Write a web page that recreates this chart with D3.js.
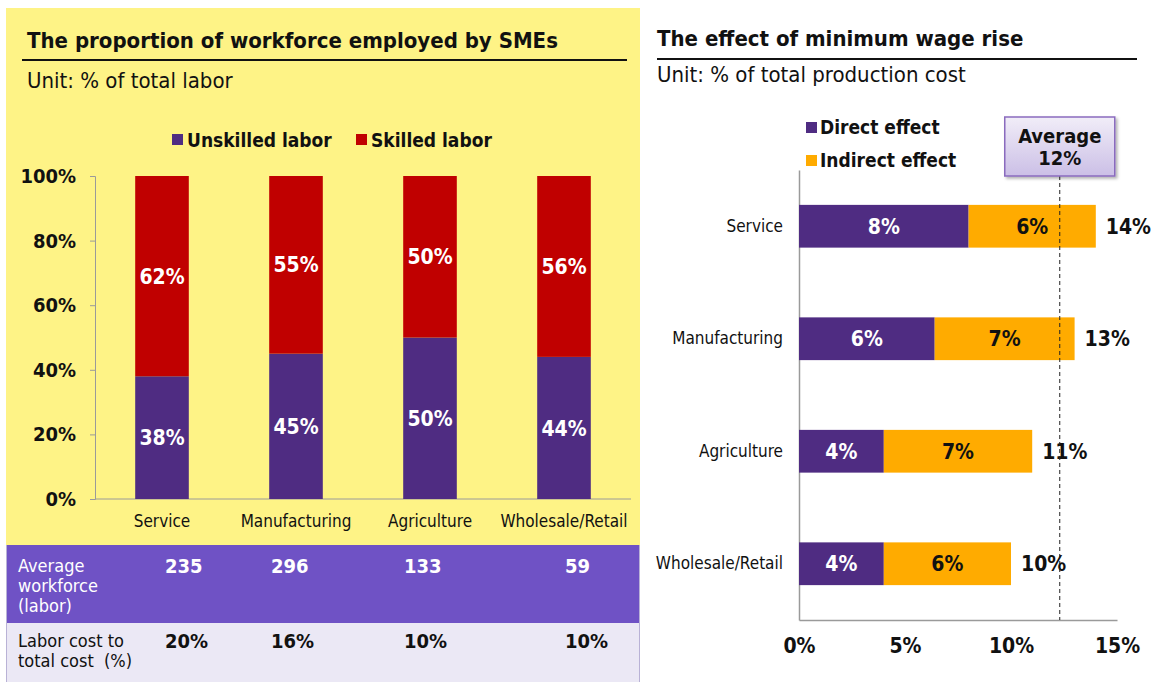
<!DOCTYPE html>
<html>
<head>
<meta charset="utf-8">
<script src="https://cdn.jsdelivr.net/npm/d3@7"></script>
<style>
  html, body { margin: 0; padding: 0; background: #ffffff; }
  svg { display: block; font-family: "DejaVu Sans Condensed", "DejaVu Sans", sans-serif; }
</style>
</head>
<body>
<svg id="chart" width="1153" height="682"></svg>
<script>
// ---- Left chart: workforce composition of SMEs ----
const sectors = ["Service", "Manufacturing", "Agriculture", "Wholesale/Retail"];
const unskilledShare = [38, 45, 50, 44];
const skilledShare = [62, 55, 50, 56];
const shareTicks = [0, 20, 40, 60, 80, 100];

// table under the left chart
const avgWorkforce = ["235", "296", "133", "59"];
const laborCostShare = ["20%", "16%", "10%", "10%"];

// ---- Right chart: effect of minimum wage rise ----
const effectSectors = ["Service", "Manufacturing", "Agriculture", "Wholesale/Retail"];
const directEffect = [8, 6.4, 4, 4];
const indirectEffect = [6, 6.6, 7, 6];
const averageEffect = 12.3;
const effectTicks = [0, 5, 10, 15];

const FONT = "DejaVu Sans Condensed, DejaVu Sans, sans-serif";
const C = {
  yellow: "#FEF386",
  purple: "#4F2C82",
  red: "#C00000",
  orange: "#FFAB00",
  tablePurple: "#6F52C5",
  tableLight: "#EBE8F5",
  axis: "#9a9a9a"
};
const pct = v => Math.round(v) + "%";

const svg = d3.select("#chart");

// ================= LEFT PANEL =================
const L = svg.append("g");
L.append("rect").attr("x", 6).attr("y", 8).attr("width", 634).attr("height", 537).attr("fill", C.yellow);

L.append("text").attr("x", 27).attr("y", 48)
  .attr("font-size", 22).attr("font-weight", "bold").attr("fill", "#111")
  .text("The proportion of workforce employed by SMEs");
L.append("line").attr("x1", 22).attr("x2", 627).attr("y1", 60).attr("y2", 60)
  .attr("stroke", "#111").attr("stroke-width", 2);
L.append("text").attr("x", 27).attr("y", 88)
  .attr("font-size", 22).attr("fill", "#111").text("Unit: % of total labor");

// legend
const legL = [
  { label: "Unskilled labor", color: C.purple, x: 172 },
  { label: "Skilled labor", color: C.red, x: 356 }
];
legL.forEach(d => {
  L.append("rect").attr("x", d.x).attr("y", 134).attr("width", 11).attr("height", 11).attr("fill", d.color);
  L.append("text").attr("x", d.x + 15).attr("y", 147)
    .attr("font-size", 19).attr("font-weight", "bold").attr("fill", "#111").text(d.label);
});

const yL = d3.scaleLinear().domain([0, 100]).range([499, 176]);
const xL = d3.scaleBand().domain(sectors).range([95, 631]).paddingInner(0.6).paddingOuter(0.3);

// y axis
const yAxisL = L.append("g").attr("transform", "translate(95,0)")
  .call(d3.axisLeft(yL).tickValues(shareTicks).tickSize(5).tickPadding(14).tickFormat(d => d + "%"));
yAxisL.selectAll("path, line").attr("stroke", C.axis);
yAxisL.selectAll("text").attr("font-size", 20).attr("font-weight", "bold").attr("fill", "#111")
  .attr("font-family", FONT);

// x axis
const xAxisL = L.append("g").attr("transform", "translate(0,499)")
  .call(d3.axisBottom(xL).tickSize(0).tickPadding(16));
xAxisL.select("path").attr("stroke", C.axis).attr("d", "M95,0H631");
xAxisL.selectAll("text").attr("font-size", 17).attr("fill", "#111")
  .attr("font-family", FONT);

// stacked bars
const stackL = sectors.map((s, i) => ({ s, u: unskilledShare[i], k: skilledShare[i] }));
const barsL = L.append("g").selectAll("g").data(stackL).join("g");
barsL.append("rect")
  .attr("x", d => xL(d.s)).attr("width", xL.bandwidth())
  .attr("y", d => yL(d.u)).attr("height", d => yL(0) - yL(d.u))
  .attr("fill", C.purple);
barsL.append("rect")
  .attr("x", d => xL(d.s)).attr("width", xL.bandwidth())
  .attr("y", d => yL(d.u + d.k)).attr("height", d => yL(d.u) - yL(d.u + d.k))
  .attr("fill", C.red);
barsL.append("text")
  .attr("x", d => xL(d.s) + xL.bandwidth() / 2).attr("y", d => yL(d.u / 2)).attr("dy", "0.36em")
  .attr("text-anchor", "middle").attr("font-size", 21).attr("font-weight", "bold").attr("fill", "#fff")
  .text(d => pct(d.u));
barsL.append("text")
  .attr("x", d => xL(d.s) + xL.bandwidth() / 2).attr("y", d => yL(d.u + d.k / 2)).attr("dy", "0.36em")
  .attr("text-anchor", "middle").attr("font-size", 21).attr("font-weight", "bold").attr("fill", "#fff")
  .text(d => pct(d.k));

// table
const colX = [165, 271, 404, 565];
L.append("rect").attr("x", 6).attr("y", 545).attr("width", 634).attr("height", 78).attr("fill", C.tablePurple);
L.append("rect").attr("x", 6).attr("y", 623).attr("width", 634).attr("height", 59).attr("fill", C.tableLight);
L.append("line").attr("x1", 6.5).attr("x2", 6.5).attr("y1", 545).attr("y2", 682).attr("stroke", "#b9b2d6");
L.append("line").attr("x1", 639.5).attr("x2", 639.5).attr("y1", 545).attr("y2", 682).attr("stroke", "#b9b2d6");

["Average", "workforce", "(labor)"].forEach((t, i) => {
  L.append("text").attr("x", 18).attr("y", 572 + i * 20).attr("font-size", 18).attr("fill", "#fff").text(t);
});
["Labor cost to", "total cost  (%)"].forEach((t, i) => {
  L.append("text").attr("x", 18).attr("y", 647 + i * 20).attr("font-size", 18).attr("fill", "#111")
    .attr("xml:space", "preserve").style("white-space", "pre").text(t);
});
avgWorkforce.forEach((v, i) => {
  L.append("text").attr("x", colX[i]).attr("y", 573).attr("font-size", 20).attr("font-weight", "bold")
    .attr("fill", "#fff").text(v);
});
laborCostShare.forEach((v, i) => {
  L.append("text").attr("x", colX[i]).attr("y", 648).attr("font-size", 20).attr("font-weight", "bold")
    .attr("fill", "#111").text(v);
});

// ================= RIGHT PANEL =================
const R = svg.append("g");
R.append("text").attr("x", 657).attr("y", 46)
  .attr("font-size", 22).attr("font-weight", "bold").attr("fill", "#111")
  .text("The effect of minimum wage rise");
R.append("line").attr("x1", 657).attr("x2", 1137).attr("y1", 59).attr("y2", 59)
  .attr("stroke", "#111").attr("stroke-width", 2);
R.append("text").attr("x", 657).attr("y", 82)
  .attr("font-size", 22).attr("fill", "#111").text("Unit: % of total production cost");

const legR = [
  { label: "Direct effect", color: C.purple, y: 122 },
  { label: "Indirect effect", color: C.orange, y: 155 }
];
legR.forEach(d => {
  R.append("rect").attr("x", 806).attr("y", d.y).attr("width", 11).attr("height", 11).attr("fill", d.color);
  R.append("text").attr("x", 820).attr("y", d.y + 12)
    .attr("font-size", 19).attr("font-weight", "bold").attr("fill", "#111").text(d.label);
});

const xR = d3.scaleLinear().domain([0, 15]).range([799, 1117]);
const yR = d3.scaleBand().domain(effectSectors).range([170, 620]).paddingInner(0.62).paddingOuter(0.31);

// axes
const xAxisR = R.append("g").attr("transform", "translate(0,620)")
  .call(d3.axisBottom(xR).tickValues(effectTicks).tickSize(0).tickPadding(18).tickFormat(d => d + "%"));
xAxisR.select("path").attr("stroke", C.axis).attr("stroke-width", 1.5);
xAxisR.selectAll("text").attr("font-size", 21).attr("font-weight", "bold").attr("fill", "#111")
  .attr("font-family", FONT);

const yAxisR = R.append("g").attr("transform", "translate(799,0)")
  .call(d3.axisLeft(yR).tickSize(0).tickPadding(16));
yAxisR.select("path").attr("stroke", C.axis).attr("stroke-width", 1.5);
yAxisR.selectAll("text").attr("font-size", 17).attr("fill", "#111")
  .attr("font-family", FONT);

// stacked horizontal bars
const stackR = effectSectors.map((s, i) => ({ s, d: directEffect[i], n: indirectEffect[i] }));
const barsR = R.append("g").selectAll("g").data(stackR).join("g");
barsR.append("rect")
  .attr("x", xR(0)).attr("width", d => xR(d.d) - xR(0))
  .attr("y", d => yR(d.s)).attr("height", yR.bandwidth()).attr("fill", C.purple);
barsR.append("rect")
  .attr("x", d => xR(d.d)).attr("width", d => xR(d.d + d.n) - xR(d.d))
  .attr("y", d => yR(d.s)).attr("height", yR.bandwidth()).attr("fill", C.orange);

// average reference line
const avgX = xR(averageEffect);
R.append("line").attr("x1", avgX).attr("x2", avgX).attr("y1", 176).attr("y2", 620)
  .attr("stroke", "#222").attr("stroke-width", 1).attr("stroke-dasharray", "4,3");

barsR.append("text")
  .attr("x", d => (xR(0) + xR(d.d)) / 2).attr("y", d => yR(d.s) + yR.bandwidth() / 2).attr("dy", "0.36em")
  .attr("text-anchor", "middle").attr("font-size", 21).attr("font-weight", "bold").attr("fill", "#fff")
  .text(d => pct(d.d));
barsR.append("text")
  .attr("x", d => (xR(d.d) + xR(d.d + d.n)) / 2).attr("y", d => yR(d.s) + yR.bandwidth() / 2).attr("dy", "0.36em")
  .attr("text-anchor", "middle").attr("font-size", 21).attr("font-weight", "bold").attr("fill", "#111")
  .text(d => pct(d.n));
barsR.append("text")
  .attr("x", d => xR(d.d + d.n) + 10).attr("y", d => yR(d.s) + yR.bandwidth() / 2).attr("dy", "0.36em")
  .attr("font-size", 21).attr("font-weight", "bold").attr("fill", "#111")
  .text(d => pct(d.d + d.n));

// average callout box
const defs = svg.append("defs");
const grad = defs.append("linearGradient").attr("id", "avgGrad").attr("x1", 0).attr("x2", 0).attr("y1", 0).attr("y2", 1);
grad.append("stop").attr("offset", "0%").attr("stop-color", "#F1EDF8");
grad.append("stop").attr("offset", "100%").attr("stop-color", "#CBBFE6");
const shadow = defs.append("filter").attr("id", "avgShadow").attr("x", "-20%").attr("y", "-20%").attr("width", "150%").attr("height", "150%");
shadow.append("feDropShadow").attr("dx", 2).attr("dy", 2).attr("stdDeviation", 1.5).attr("flood-color", "#000").attr("flood-opacity", 0.3);

const boxW = 110, boxH = 59;
R.append("rect").attr("x", avgX - boxW / 2).attr("y", 117).attr("width", boxW).attr("height", boxH)
  .attr("fill", "url(#avgGrad)").attr("stroke", "#8A6BBE").attr("stroke-width", 1.5)
  .attr("filter", "url(#avgShadow)");
R.append("text").attr("x", avgX).attr("y", 143).attr("text-anchor", "middle")
  .attr("font-size", 20).attr("font-weight", "bold").attr("fill", "#111").text("Average");
R.append("text").attr("x", avgX).attr("y", 165).attr("text-anchor", "middle")
  .attr("font-size", 20).attr("font-weight", "bold").attr("fill", "#111").text(pct(averageEffect));
</script>
</body>
</html>
